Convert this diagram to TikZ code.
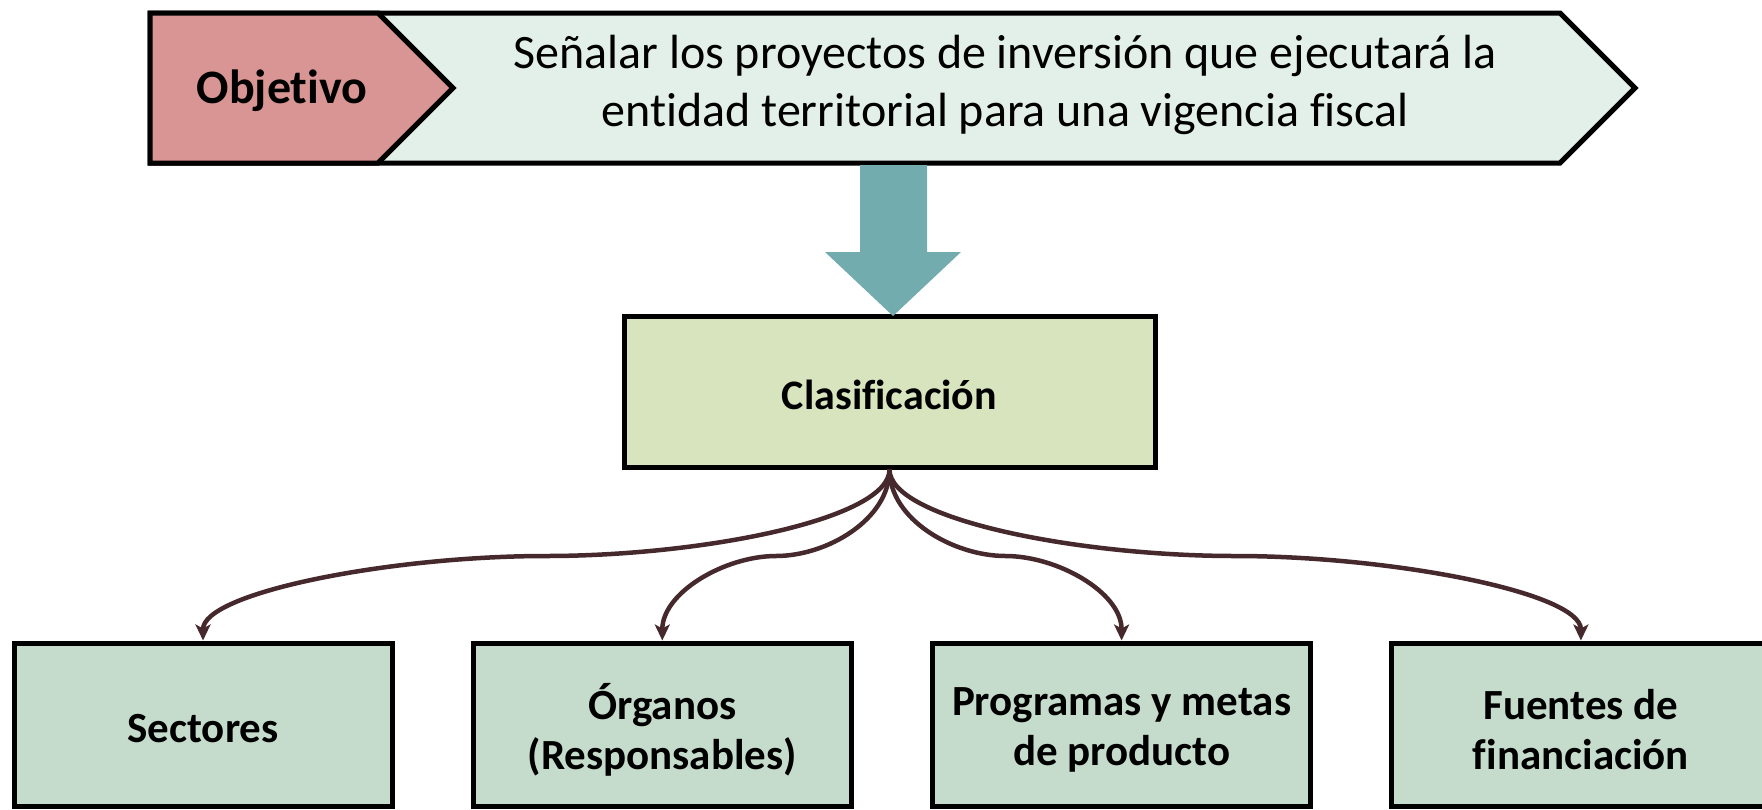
\documentclass[tikz,border=0pt]{standalone}
\usepackage{fontspec}
\setmainfont{Carlito}[Ligatures=CommonOff]
\usetikzlibrary{arrows.meta}
\definecolor{objred}{HTML}{D99594}
\definecolor{bannerbg}{HTML}{E3F0EA}
\definecolor{teal}{HTML}{72ACAE}
\definecolor{clasfill}{HTML}{D7E4BD}
\definecolor{childfill}{HTML}{C5DCCC}
\definecolor{connclr}{HTML}{45292C}
\tikzset{
  outline/.style={draw=black, line width=5pt, line join=miter},
  clasbox/.style={outline, fill=clasfill, minimum width=531pt, minimum height=151pt, inner sep=0pt},
  childbox/.style={outline, fill=childfill, minimum width=378pt, minimum height=163pt, inner sep=0pt},
  boxtext/.style={align=center, inner sep=0pt, font=\fontsize{43}{50}\selectfont\bfseries},
  conn/.style={draw=connclr, line width=4.5pt, -{Stealth[length=16pt,width=15pt,inset=4pt]}},
  bannertext/.style={align=center, font=\fontsize{48}{58}\selectfont},
}
\begin{document}
\begin{tikzpicture}[x=1pt,y=-1pt]
\clip (0,0) rectangle (1762,809);
% banner
\draw[outline, fill=bannerbg] (150,13) -- (1560,13) -- (1635,88) -- (1560,163) -- (150,163) -- cycle;
\draw[outline, fill=objred] (150,13) -- (378,13) -- (453,88) -- (378,163) -- (150,163) -- cycle;
\node[font=\fontsize{48}{56}\selectfont\bfseries] (obj) at (282,91) {Objetivo};
\node[bannertext] (goal) at (1005,85) {Señalar los proyectos de inversión que ejecutará la\\entidad territorial para una vigencia fiscal};
% boxes
\node[clasbox] (clas) at (889.5,391.5) {};
\node[boxtext, font=\fontsize{42}{50}\selectfont\bfseries] (clast) at (889.5,395) {Clasificación};
\node[childbox] (c1) at (203,724.5) {};
\node[childbox] (c2) at (662.3,724.5) {};
\node[childbox] (c3) at (1121.6,724.5) {};
\node[childbox] (c4) at (1580.9,724.5) {};
\node[boxtext] (c1t) at (203,729) {Sectores};
\node[boxtext] (c2t) at (662.3,730) {Órganos\\(Responsables)};
\node[boxtext] (c3t) at (1121.6,730) {Programas y metas\\de producto};
\node[boxtext] (c4t) at (1580.9,730) {Fuentes de\\financiación};
% big arrow
\coordinate (atop) at (893,165);
\coordinate (atip) at (893,316);
\fill[teal] (atop) ++(-33,0) -- ++(67,0) -- (927,252) -- (961,252) -- (atip) -- (825,252) -- (860,252) -- cycle;
% connectors
\coordinate (m1) at (546,556);
\coordinate (m2) at (776,556);
\coordinate (m3) at (1005.5,556);
\coordinate (m4) at (1235,556);
\draw[conn] (clas.south) .. controls +(0,50) and +(155,0) .. (m1) .. controls +(-155,0) and +(0,-48) .. (c1.north);
\draw[conn] (clas.south) .. controls +(0,50) and +(51,0) .. (m2) .. controls +(-51,0) and +(0,-48) .. (c2.north);
\draw[conn] (clas.south) .. controls +(0,50) and +(-52,0) .. (m3) .. controls +(52,0) and +(0,-48) .. (c3.north);
\draw[conn] (clas.south) .. controls +(0,50) and +(-156,0) .. (m4) .. controls +(156,0) and +(0,-48) .. (c4.north);
\end{tikzpicture}
\end{document}
